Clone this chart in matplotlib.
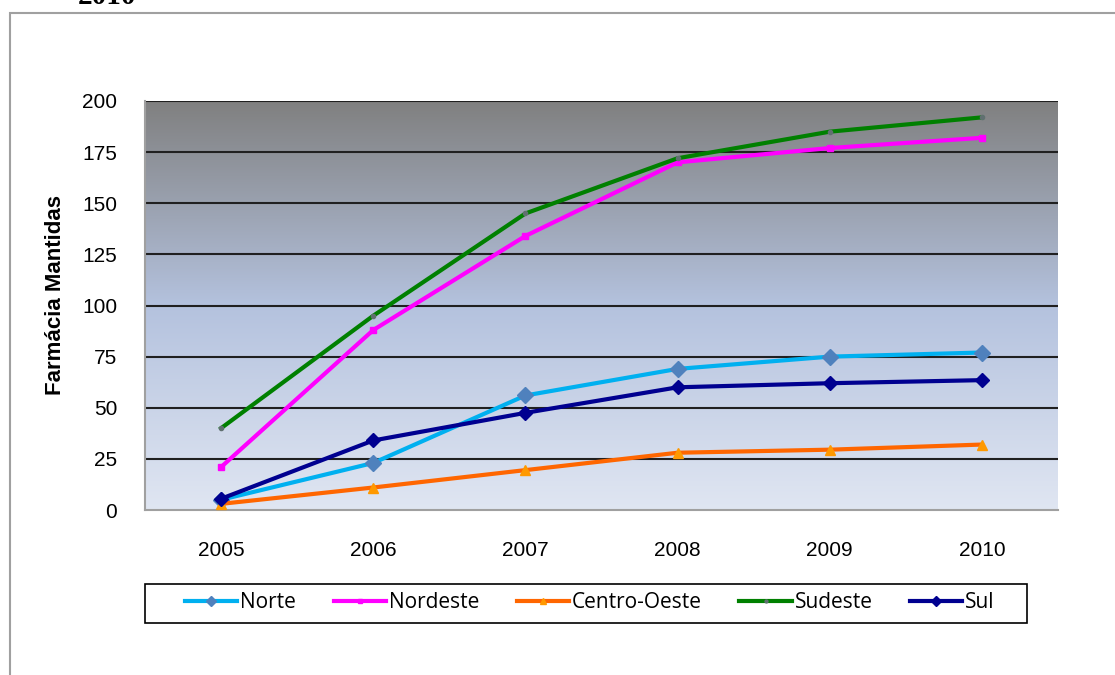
import numpy as np
import matplotlib.pyplot as plt
from matplotlib.patches import Rectangle

anos = ['2005', '2006', '2007', '2008', '2009', '2010']
norte = [5, 23, 56, 69, 75, 77]
nordeste = [21, 88, 134, 170, 177, 182]
centro_oeste = [3, 11, 19.5, 28, 29.5, 32]
sudeste = [40, 95, 145, 172, 185, 192]
sul = [5.5, 34, 47.5, 60, 62, 63.5]

plt.rcParams['font.family'] = ['Liberation Sans', 'DejaVu Sans']

W, H = 1115, 675
fig = plt.figure(figsize=(W / 100, H / 100), dpi=100)

# outer frame of the chart (cut by the page)
fig.patches.append(Rectangle((10/W, -0.1), 1.2, 1 - 13/H + 0.1, transform=fig.transFigure,
                             fill=False, edgecolor='#a0a0a0', linewidth=1.5))
fig.text(78/W, 1 - 4/H, '2010', fontsize=21, fontweight='bold', family='Liberation Serif',
         va='baseline', ha='left')

ax = fig.add_axes([145/W, 1 - 510/H, 913/W, 409/H])
x = np.arange(len(anos))

# gradient background (dark grey at top, light blue at bottom)
grad = np.linspace(0, 1, 256).reshape(-1, 1, 1)
top = np.array([128, 128, 128]) / 255
mid = np.array([180, 194, 222]) / 255
bot = np.array([224, 230, 242]) / 255
cols = np.where(grad < 0.5,
                top + (mid - top) * (grad / 0.5),
                mid + (bot - mid) * ((grad - 0.5) / 0.5))
ax.imshow(cols, extent=[-0.5, 5.5, 0, 200], aspect='auto', zorder=0)

ax.set_xlim(-0.5, 5.5)
ax.set_ylim(0, 200)
ax.set_yticks(np.arange(0, 201, 25))
for v in range(25, 201, 25):
    ax.axhline(v, color='#202020', linewidth=1.5, zorder=1)

ax.plot(x, norte, color='#00b0f0', linewidth=3, marker='D', markersize=8,
        markerfacecolor='#4f81bd', markeredgecolor='#4f81bd', label='Norte', zorder=3)
ax.plot(x, nordeste, color='#ff00ff', linewidth=3, marker='s', markersize=5,
        label='Nordeste', zorder=3)
ax.plot(x, centro_oeste, color='#ff6600', linewidth=3, marker='^', markersize=7,
        markerfacecolor='#ff9900', markeredgecolor='#ff9900', label='Centro-Oeste', zorder=3)
ax.plot(x, sudeste, color='#008000', linewidth=3, marker='o', markersize=3,
        markerfacecolor='#607070', markeredgecolor='#607070', label='Sudeste', zorder=3)
ax.plot(x, sul, color='#000090', linewidth=3, marker='D', markersize=7,
        label='Sul', zorder=3)

ax.set_xticks(x)
ax.set_xticklabels(anos)
ax.tick_params(axis='both', length=0, labelsize=15, colors='#000000')
ax.tick_params(axis='x', pad=22)
ax.tick_params(axis='y', pad=20)
for s in ['top', 'right']:
    ax.spines[s].set_visible(False)
for s in ['left', 'bottom']:
    ax.spines[s].set_color('#a0a0a0')
    ax.spines[s].set_linewidth(1.5)
ax.set_ylabel('Farmácia Mantidas', fontsize=16, fontweight='bold')
ax.yaxis.set_label_coords(-0.087, 0.526)

# legend entries without frame, box drawn separately (wide inner padding)
fig.patches.append(Rectangle((145/W, 1 - 623/H), 882/W, 39/H, transform=fig.transFigure,
                             fill=False, edgecolor='#000000', linewidth=1.2))
leg = fig.legend(loc='center', bbox_to_anchor=(590/W, 1 - 603/H), ncol=5,
                 frameon=False, handlelength=2.5, handletextpad=0.15, columnspacing=1.8,
                 borderpad=0.3, markerscale=0.7,
                 prop={'family': ['Open Sans', 'DejaVu Sans'], 'size': 15})

fig.savefig('out.png', dpi=100)
